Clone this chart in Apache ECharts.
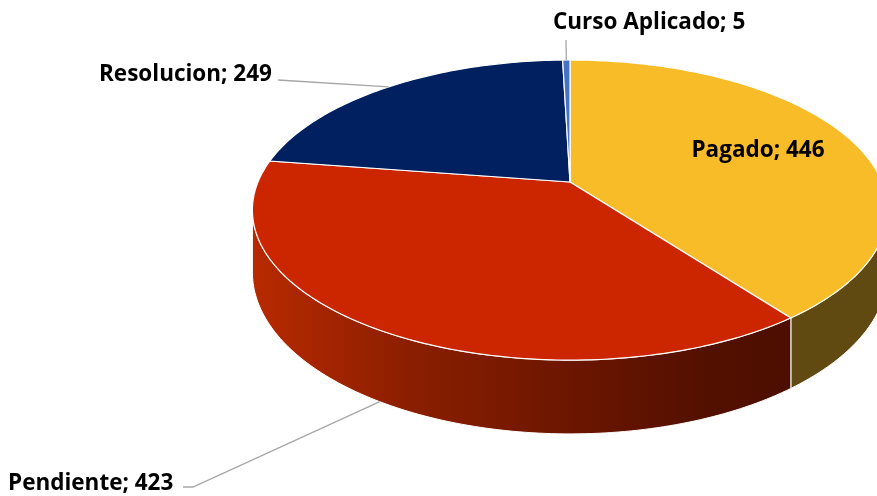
<!DOCTYPE html>
<html><head><meta charset="utf-8">
<script src="https://cdn.jsdelivr.net/npm/echarts@6/dist/echarts.min.js"></script>
<style>html,body{margin:0;padding:0;background:#fff}#c{width:877px;height:496px}</style>
</head><body><div id="c"></div>
<script>
// ---- data ----
const categories = ['Pagado', 'Pendiente', 'Resolucion', 'Curso Aplicado'];
const values = [446, 423, 249, 5];
const topColors = ['#F9BC29', '#CC2600', '#002060', '#4472C4'];

// ---- styling / layout (not data) ----
const geo = { cx: 570, cy: 182, rx: 312, ry: 144.8, k: 0.187, depth: 60 };
const wallStops = [
  [{ offset: 0, color: '#6A5317' }, { offset: 1, color: '#604A12' }],
  [{ offset: 0, color: '#B82A00' }, { offset: 0.3, color: '#8A1E00' }, { offset: 0.65, color: '#661400' }, { offset: 0.85, color: '#521000' }, { offset: 1, color: '#4D0E00' }],
  [{ offset: 0, color: '#001848' }, { offset: 1, color: '#000F30' }],
  [{ offset: 0, color: '#2E4F8A' }, { offset: 1, color: '#24406F' }]
];
// label text anchor + elbow points; the final leader point is taken on the slice rim
const labelLayout = [
  { x: 758, y: 151, align: 'center', elbow: null },
  { x: 8, y: 484, align: 'left', elbow: [[183, 487], [193, 487]], rim: 'bottom' },
  { x: 99, y: 75, align: 'left', elbow: [[278, 80]], rim: 'top' },
  { x: 553, y: 23, align: 'left', elbow: [[566, 40]], rim: 'top' }
];
const font = 'bold 22.5px "Open Sans", Lato, sans-serif';

const total = values.reduce((a, b) => a + b, 0);
const cum = [];
values.reduce((acc, v, i) => { cum[i] = acc; return acc + v; }, 0);

function proj(phiDeg, h) {
  const p = phiDeg * Math.PI / 180;
  const u = Math.sin(p), v = -Math.cos(p);
  const s = 1 / (1 - geo.k * v);
  return [geo.cx + geo.rx * u * s, geo.cy + (geo.ry * v + h) * s];
}
function angles(idx, val) {
  const a0 = cum[idx] / total * 360;
  return [a0, a0 + val / total * 360];
}
const VIS0 = 90 + Math.asin(geo.k) * 180 / Math.PI, VIS1 = 270 - Math.asin(geo.k) * 180 / Math.PI;

function wallItem(params, api) {
  const idx = params.dataIndex, val = api.value(0);
  let [a0, a1] = angles(idx, val);
  a0 = Math.max(a0, VIS0); a1 = Math.min(a1, VIS1);
  if (a1 <= a0) return { type: 'group', children: [] };
  const top = [], bot = [];
  const n = Math.max(4, Math.ceil((a1 - a0) / 1));
  for (let i = 0; i <= n; i++) {
    const a = a0 + (a1 - a0) * i / n;
    top.push(proj(a, 0)); bot.push(proj(a, geo.depth));
  }
  const pts = top.concat(bot.reverse());
  return {
    type: 'polygon', shape: { points: pts },
    style: { fill: new echarts.graphic.LinearGradient(252, 0, 793, 0, wallStops[idx], true), stroke: '#fff', lineWidth: 1 }
  };
}
function topItem(params, api) {
  const idx = params.dataIndex, val = api.value(0);
  const [a0, a1] = angles(idx, val);
  const pts = [[geo.cx, geo.cy]];
  const n = Math.max(2, Math.ceil((a1 - a0) / 1));
  for (let i = 0; i <= n; i++) pts.push(proj(a0 + (a1 - a0) * i / n, 0));
  return {
    type: 'polygon', shape: { points: pts },
    style: { fill: topColors[idx], stroke: '#fff', lineWidth: 1.2 }
  };
}
function labelItem(params, api) {
  const idx = params.dataIndex, val = api.value(0);
  const [a0, a1] = angles(idx, val);
  const L = labelLayout[idx];
  const children = [];
  if (L.elbow) {
    const mid = (a0 + a1) / 2;
    const end = proj(mid, L.rim === 'bottom' ? geo.depth : 0);
    children.push({ type: 'polyline', shape: { points: L.elbow.concat([end]) }, style: { stroke: '#A6A6A6', lineWidth: 1.3, fill: null } });
  }
  children.push({
    type: 'text', x: L.x, y: L.y,
    style: { text: categories[idx] + '; ' + val, font: font, fill: '#000', align: L.align, verticalAlign: 'middle' }
  });
  return { type: 'group', children };
}

const data = values.map(v => [v]);
const chart = echarts.init(document.getElementById('c'), null, { renderer: 'canvas' });
chart.setOption({
  animation: false,
  backgroundColor: '#fff',
  series: [
    { type: 'custom', coordinateSystem: 'none', renderItem: wallItem, data: data, z: 1, silent: true },
    { type: 'custom', coordinateSystem: 'none', renderItem: topItem, data: data, z: 2, silent: true },
    { type: 'custom', coordinateSystem: 'none', renderItem: labelItem, data: data, z: 3, silent: true }
  ]
});
</script></body></html>
